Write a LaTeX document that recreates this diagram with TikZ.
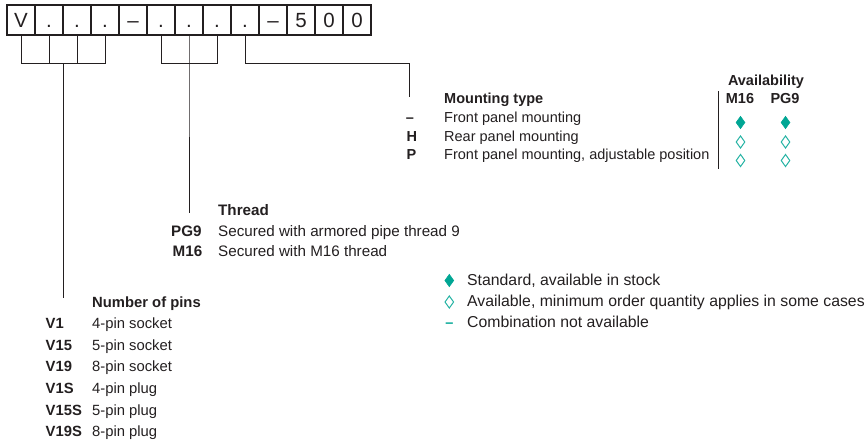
\documentclass[tikz,border=0pt]{standalone}
\usepackage{fontspec}
\setmainfont{Liberation Sans}
\usetikzlibrary{shapes.geometric}
\definecolor{teal1}{RGB}{0,166,148}
\definecolor{txt}{RGB}{35,31,32}
\begin{document}
\begin{tikzpicture}[x=1pt,y=-1pt,
  codebox/.style={draw=txt,line width=1.7pt,minimum width=28pt,minimum height=30pt,inner sep=0pt,text height=14.5pt,text depth=0pt,font=\fontsize{20.5}{20}\selectfont,text=txt},
  conn/.style={draw=txt,line width=0.9pt},
  lab/.style={anchor=base west,inner sep=0pt,text=txt,font=\fontsize{#1}{#1}\selectfont},
  lab/.default=14.5,
  blab/.style={anchor=base west,inner sep=0pt,text=txt,font=\fontsize{#1}{#1}\selectfont\bfseries},
  blab/.default=14.5,
  blabc/.style={anchor=base,inner sep=0pt,font=\fontsize{14.5}{16}\selectfont\bfseries,text=txt},
  fdia/.style={diamond,fill=teal1,draw=teal1,line width=0.6pt,minimum width=9pt,minimum height=12.5pt,inner sep=0pt},
  odia/.style={diamond,draw=teal1!85,line width=1pt,minimum width=9pt,minimum height=12.5pt,inner sep=0pt}]
\useasboundingbox (0,0) rectangle (866,444);
% code boxes
\foreach \t [count=\i] in {V,.,.,.,–,.,.,.,.,–,5,0,0}{
  \node[codebox] (b\i) at ({7+28*(\i-1)+14},20) {\t};
}
% bracket level
\coordinate (h) at (0,63);
% pins bracket
\draw[conn] (b1.south) -- (b1.south |- h) -- (b4.south |- h) -- (b4.south);
\draw[conn] (b2.south) -- (b2.south |- h);
\draw[conn] (b3.south) -- (b3.south |- h);
\coordinate (t1) at (63.5,63);
\coordinate (e1) at (63.5,298);
\draw[conn] (t1) -- (e1);
% thread bracket
\draw[conn] (b6.south) -- (b6.south |- h) -- (b8.south |- h) -- (b8.south);
\coordinate (t2) at (b7.south |- h);
\coordinate (e2) at (b7.south |- 0,213);
\draw[conn] (b7.south) -- (t2) -- (e2);
% mounting
\coordinate (k3) at (409.5,63);
\coordinate (e3) at (409.5,97);
\draw[conn] (b9.south) -- (b9.south |- h) -- (k3) -- (e3);

% Mounting type section
\node[blab] (mt) at (444,103) {Mounting type};
\node[anchor=base,inner sep=0pt,font=\fontsize{14.5}{16}\selectfont\bfseries,text=txt] (m1k) at (410,122.5) {–};
\node[blab] (m2k) at (406.5,141) {H};
\node[blab] (m3k) at (406.5,159) {P};
\node[lab] (m1) at (444,122.5) {Front panel mounting};
\node[lab] (m2) at (444,141) {Rear panel mounting};
\node[lab] (m3) at (444,159) {Front panel mounting, adjustable position};
\coordinate (s1) at (718,91);
\coordinate (s2) at (718,169);
\draw[conn] (s1) -- (s2);
\node[blabc] (av) at (766,85) {Availability};
\node[blabc] (cm) at (740,103) {M16};
\node[blabc] (cp) at (785,103) {PG9};
\node[fdia] (d11) at (740.5,122.5) {};
\node[fdia] (d12) at (785.5,122.5) {};
\node[odia] (d21) at (740.5,142) {};
\node[odia] (d22) at (785.5,142) {};
\node[odia] (d31) at (740.5,160.5) {};
\node[odia] (d32) at (785.5,160.5) {};

% Thread section
\node[blab=15.2] (th) at (218,215) {Thread};
\node[blab=15.2] (t1k) at (171,236.5) {PG9};
\node[blab=15.2] (t2k) at (172.5,256) {M16};
\node[lab=15.2] (t1d) at (218,236.5) {Secured with armored pipe thread 9};
\node[lab=15.2] (t2d) at (218,256) {Secured with M16 thread};

% Legend
\node[fdia] (l1) at (449.3,280.5) {};
\node[odia] (l2) at (449.3,302) {};
\node[anchor=base,inner sep=0pt,font=\fontsize{14.5}{16}\selectfont\bfseries,text=teal1] (l3) at (449.3,327.5) {–};
\node[lab=15.8] (l1t) at (467,285) {Standard, available in stock};
\node[lab=15.8] (l2t) at (467,306.5) {Available, minimum order quantity applies in some cases};
\node[lab=15.8] (l3t) at (467,327.5) {Combination not available};

% Number of pins
\node[blab=14.8] (np) at (92,307) {Number of pins};
\foreach \k/\d/\y [count=\j] in {V1/4-pin socket/328,V15/5-pin socket/350,V19/8-pin socket/371.5,V1S/4-pin plug/393,V15S/5-pin plug/415,V19S/8-pin plug/436.5}{
  \node[blab=14.8] (pk\j) at (45.5,\y) {\k};
  \node[lab=14.8] (pd\j) at (92,\y) {\d};
}
\end{tikzpicture}
\end{document}
